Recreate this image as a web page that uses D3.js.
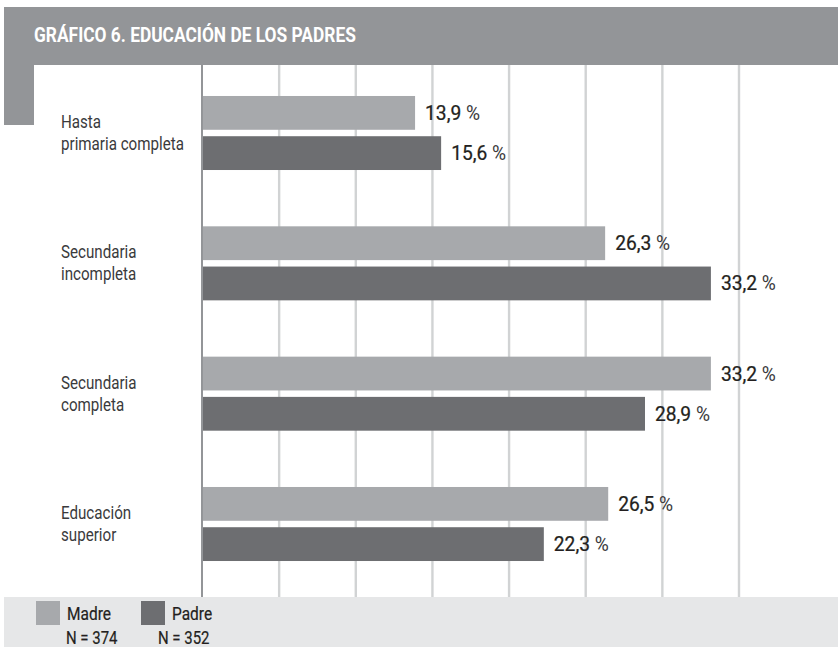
<!DOCTYPE html>
<html><head><meta charset="utf-8">
<script src="https://cdn.jsdelivr.net/npm/d3@7/dist/d3.min.js"></script>
<style>
html,body{margin:0;padding:0;background:#fff;}
svg{display:block;font-family:Roboto,"Noto Sans",sans-serif;}
</style></head>
<body><svg id="c" width="838" height="647"></svg>
<script>
const title = "GRÁFICO 6. EDUCACIÓN DE LOS PADRES";
const categories = [["Hasta","primaria completa"],["Secundaria","incompleta"],["Secundaria","completa"],["Educación","superior"]];
const series = ["Madre","Padre"];
const madre = [13.9, 26.3, 33.2, 26.5];
const padre = [15.6, 33.2, 28.9, 22.3];
const nLabels = ["N = 374","N = 352"];
const gridTicks = [0,5,10,15,20,25,30,35];
const colors = {Madre:"#a7a9ac", Padre:"#6d6e71"};

const svg = d3.select("#c");
const W = 838, H = 647;
const plotTop = 65, plotBottom = 597;

function factor(str, size, weight, target){
  const t = svg.append("text").attr("font-size",size).attr("font-weight",weight).text(str);
  const w = t.node().getComputedTextLength(); t.remove();
  return target / w;
}
const fTitle = factor(title, 19.5, "bold", 322);
const fCat = factor("primaria completa", 18, 400, 123);
const fVal = factor("33,2 %", 20, 400, 55);
const fLeg = factor("Madre", 18, 400, 44);
const fN = factor("N = 374", 18, 400, 53);

function ctext(parent, x, y, sx){
  return parent.append("text").attr("transform",`translate(${x},${y}) scale(${sx},1)`);
}

// header band
svg.append("rect").attr("x",4).attr("y",7).attr("width",W-4).attr("height",58).attr("fill","#939598");
svg.append("rect").attr("x",4).attr("y",65).attr("width",30).attr("height",60).attr("fill","#939598");
ctext(svg,34,41.5,fTitle).attr("fill","#fff").attr("font-weight","bold").attr("font-size",19.5).text(title);

const x = d3.scaleLinear().domain([0,35]).range([202,738.5]);
const keys = categories.map(c=>c.join(" "));
const y0 = d3.scaleBand().domain(keys).range([63.4,593.6]).paddingInner(0.432).paddingOuter(0.25);
const y1 = d3.scaleBand().domain(series).range([0,y0.bandwidth()]).paddingInner(0.16);

// grid
const grid = d3.axisBottom(x).tickValues(gridTicks.slice(1)).tickSize(plotBottom-plotTop).tickFormat("");
const gg = svg.append("g").attr("transform",`translate(0,${plotTop})`).call(grid);
gg.select(".domain").remove();
gg.selectAll(".tick line").attr("stroke","#d1d3d4").attr("stroke-width",2.4);

const data = keys.map((k,i)=>({key:k, lines:categories[i], Madre:madre[i], Padre:padre[i]}));

const groups = svg.append("g").selectAll("g").data(data).join("g")
  .attr("transform",d=>`translate(0,${y0(d.key)})`);

groups.selectAll("rect").data(d=>series.map(s=>({s, v:d[s]}))).join("rect")
  .attr("x",x(0)).attr("y",d=>y1(d.s)).attr("height",y1.bandwidth())
  .attr("width",d=>x(d.v)-x(0)).attr("fill",d=>colors[d.s]);

groups.each(function(d){
  const g = d3.select(this);
  series.forEach(s=>{
    const t = ctext(g, x(d[s])+10, y1(s)+y1.bandwidth()/2+7, fVal).attr("font-size",20).attr("fill","#231f20");
    t.append("tspan").attr("stroke","#231f20").attr("stroke-width",0.25).text(d3.format(".1f")(d[s]).replace(".",","));
    t.append("tspan").attr("fill","#3a3a3c").text(" %");
  });
  d.lines.forEach((ln,i)=>{
    ctext(g, 61, y0.bandwidth()/2 - 5 + i*22, fCat).attr("font-size",18).attr("fill","#3a3a3c").text(ln);
  });
});

// axis line
svg.append("line").attr("x1",x(0)).attr("x2",x(0)).attr("y1",plotTop).attr("y2",plotBottom)
  .attr("stroke","#939598").attr("stroke-width",2);

// legend band
svg.append("rect").attr("x",4).attr("y",597).attr("width",W-4).attr("height",H-597).attr("fill","#e6e7e8");
const lx = [36,141];
const nx = [66,158];
series.forEach((s,i)=>{
  svg.append("rect").attr("x",lx[i]).attr("y",601).attr("width",24).attr("height",24).attr("fill",colors[s]);
  ctext(svg, lx[i]+31, 620, fLeg).attr("font-size",18).attr("fill","#231f20")
    .attr("stroke","#231f20").attr("stroke-width",0.2).text(s);
  ctext(svg, nx[i], 644, fN).attr("font-size",17.5).attr("fill","#231f20")
    .attr("stroke","#231f20").attr("stroke-width",0.2).text(nLabels[i]);
});
</script></body></html>
